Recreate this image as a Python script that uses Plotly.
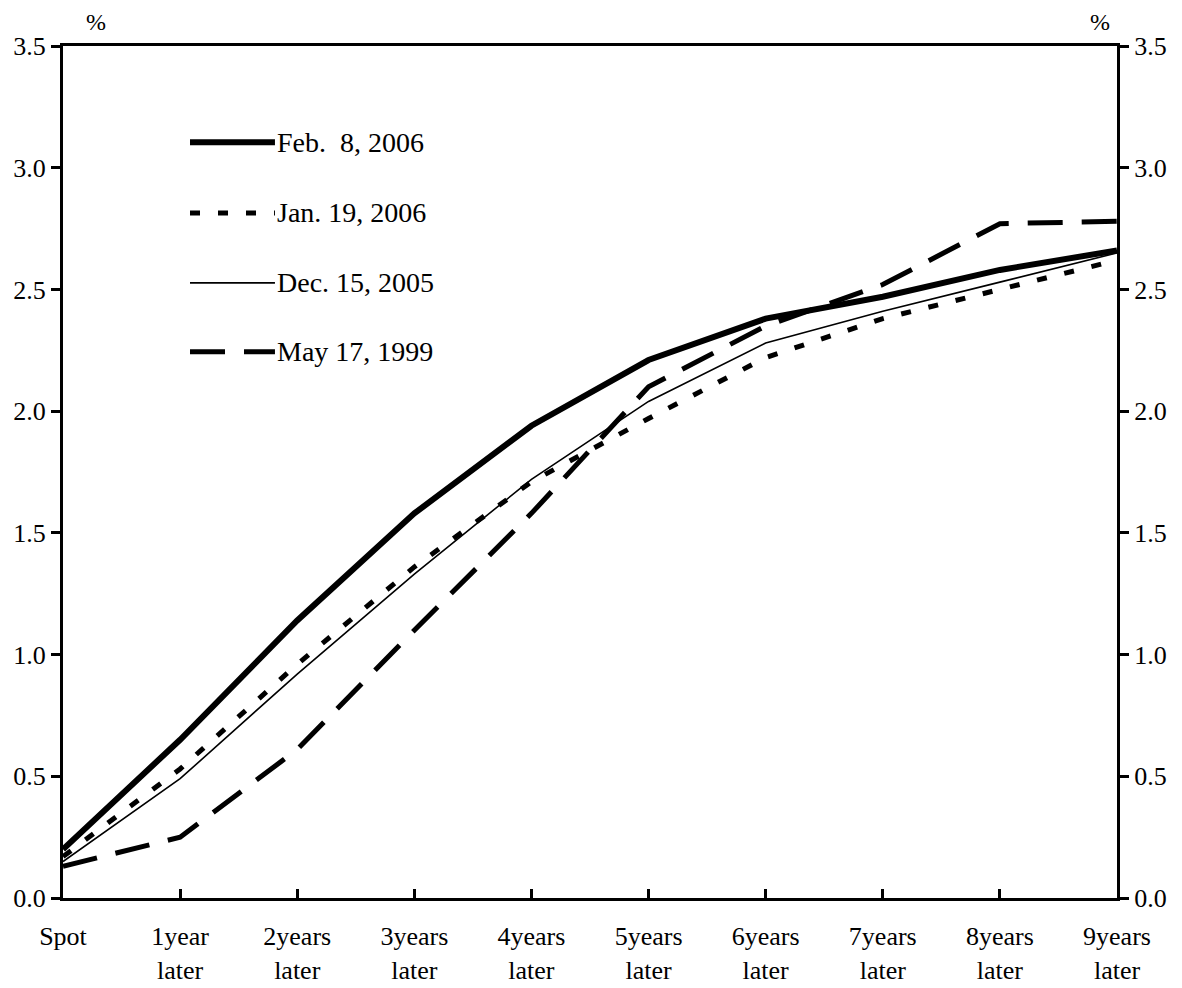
import plotly.graph_objects as go

categories = ["Spot", "1year<br>later", "2years<br>later", "3years<br>later", "4years<br>later",
              "5years<br>later", "6years<br>later", "7years<br>later", "8years<br>later", "9years<br>later"]

feb_2006 = [0.20, 0.65, 1.14, 1.58, 1.94, 2.21, 2.38, 2.47, 2.58, 2.66]
jan_2006 = [0.17, 0.53, 0.96, 1.36, 1.71, 1.97, 2.22, 2.38, 2.50, 2.62]
dec_2005 = [0.15, 0.49, 0.92, 1.33, 1.72, 2.04, 2.28, 2.41, 2.53, 2.65]
may_1999 = [0.13, 0.25, 0.61, 1.10, 1.58, 2.10, 2.35, 2.52, 2.77, 2.78]

series_names = ["Feb.  8, 2006", "Jan. 19, 2006", "Dec. 15, 2005", "May 17, 1999"]
series_values = [feb_2006, jan_2006, dec_2005, may_1999]
series_styles = [
    dict(width=6, dash="solid"),
    dict(width=5, dash="10px,18px"),
    dict(width=1.6, dash="solid"),
    dict(width=5, dash="35px,19px"),
]

FONT = "Liberation Serif"
x_idx = list(range(len(categories)))

fig = go.Figure()
for name, vals, st in zip(series_names, series_values, series_styles):
    fig.add_trace(go.Scatter(
        x=x_idx, y=vals, mode="lines", name=name,
        line=dict(color="black", width=st["width"], dash=st["dash"]),
        showlegend=False,
    ))

# invisible trace so the right-hand axis is drawn
fig.add_trace(go.Scatter(
    x=x_idx, y=feb_2006, yaxis="y2", mode="lines", opacity=0,
    line=dict(width=0), showlegend=False, hoverinfo="skip",
))

# manual legend (long line samples as in the reference)
leg_y = [0.887, 0.804, 0.722, 0.641]
for name, st, yy in zip(series_names, series_styles, leg_y):
    fig.add_shape(type="line", xref="paper", yref="paper",
                  x0=0.1205, x1=0.2011, y0=yy, y1=yy,
                  line=dict(color="black", width=st["width"], dash=st["dash"]))
    fig.add_annotation(xref="paper", yref="paper", x=0.2013, y=yy,
                       text=name, showarrow=False, xanchor="left", yanchor="middle",
                       font=dict(family=FONT, size=28, color="black"))

# % labels
fig.add_annotation(xref="paper", yref="paper", x=0.031, y=1.0, yshift=24,
                   text="%", showarrow=False, xanchor="center", yanchor="middle",
                   font=dict(family=FONT, size=24, color="black"))
fig.add_annotation(xref="paper", yref="paper", x=0.984, y=1.0, yshift=24,
                   text="%", showarrow=False, xanchor="center", yanchor="middle",
                   font=dict(family=FONT, size=24, color="black"))

axis_common = dict(
    range=[0, 3.5], dtick=0.5, tick0=0, tickformat=".1f",
    showgrid=False, zeroline=False, automargin=False,
    showline=True, linecolor="black", linewidth=3,
    ticks="outside", ticklen=9, tickwidth=2.5, tickcolor="black",
    tickfont=dict(family=FONT, size=26, color="black"),
)

fig.update_layout(
    width=1174, height=980,
    margin=dict(l=55, r=65, t=38, b=90),
    paper_bgcolor="white", plot_bgcolor="white",
    font=dict(family=FONT, size=26, color="black"),
    xaxis=dict(
        tickmode="array", tickvals=x_idx, ticktext=categories,
        range=[0, 9], showgrid=False, zeroline=False, automargin=False,
        showline=True, linecolor="black", linewidth=3, mirror=True,
        ticks="inside", ticklen=9, tickwidth=2.5, tickcolor="black",
        ticklabelstandoff=13,
        tickfont=dict(family=FONT, size=26, color="black"),
    ),
    yaxis=dict(ticklabelstandoff=0, **axis_common),
    yaxis2=dict(overlaying="y", side="right", anchor="x", ticklabelstandoff=0, **axis_common),
)

fig.write_html("out.html")
